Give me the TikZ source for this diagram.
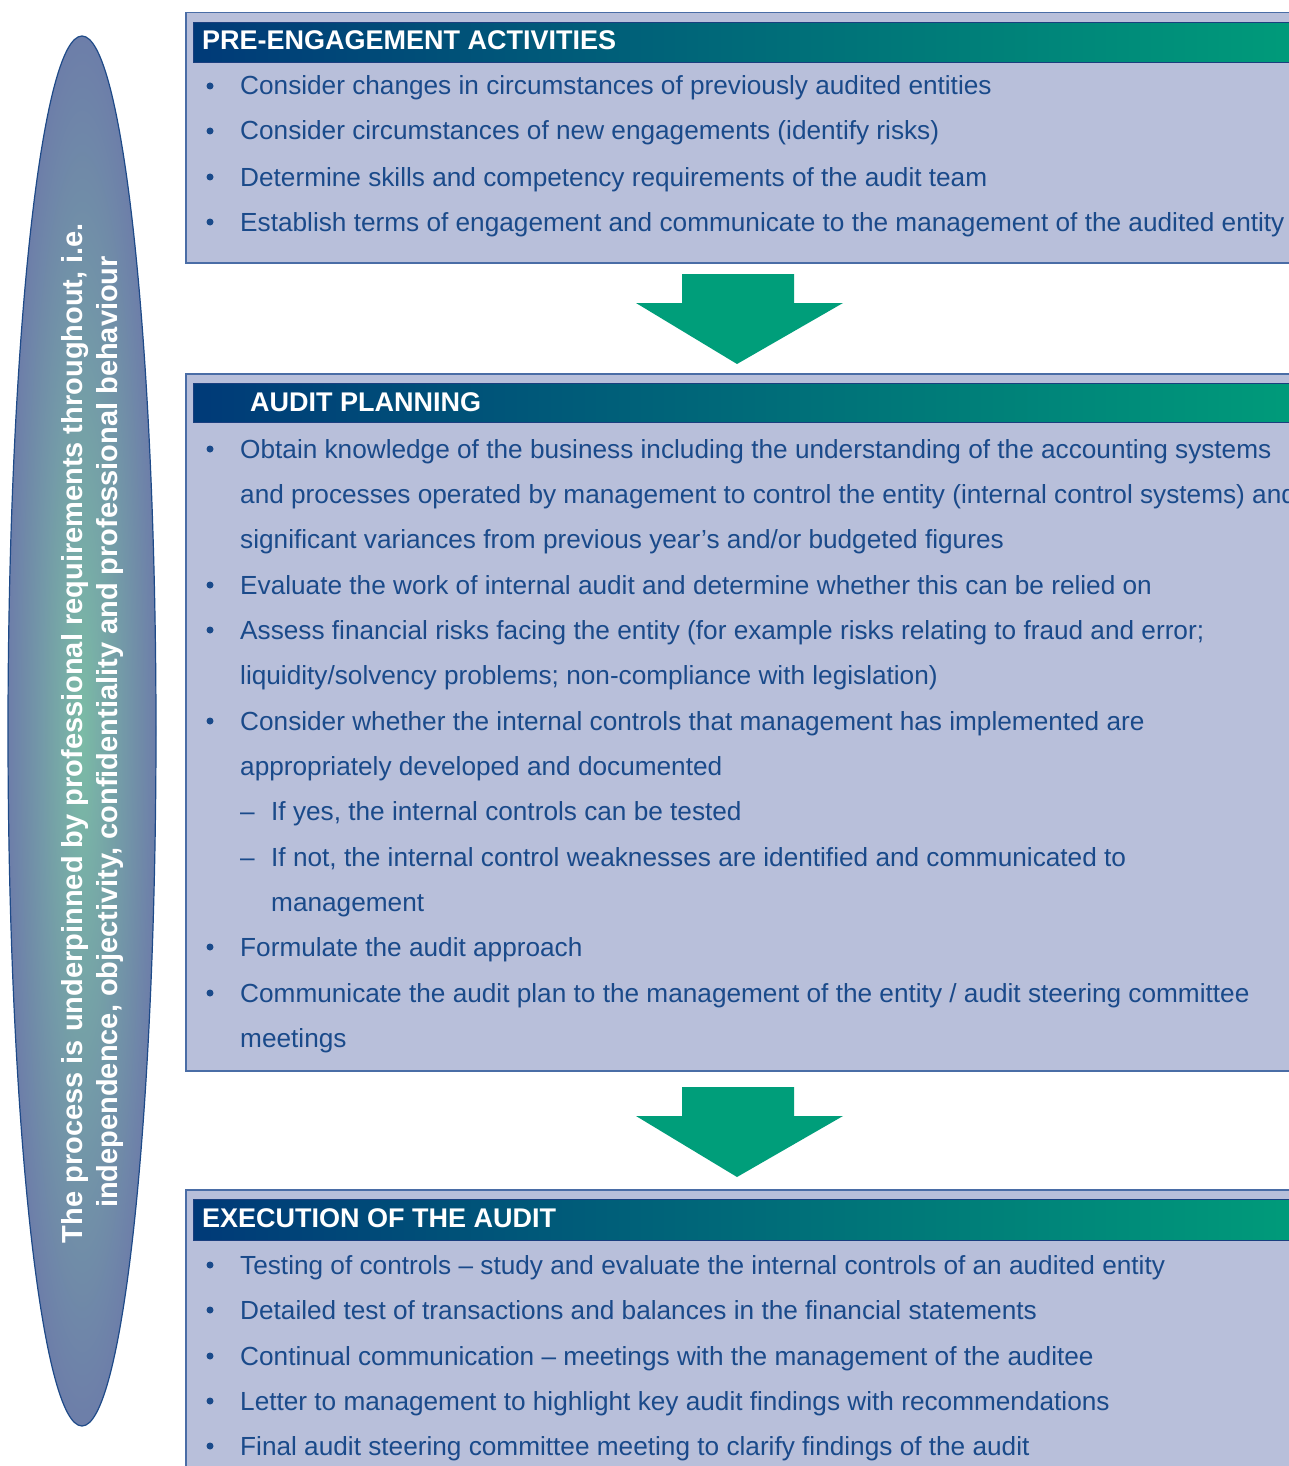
\documentclass[tikz,border=0pt]{standalone}
\usepackage{fontspec}
\setmainfont{Liberation Sans}
\definecolor{boxfill}{HTML}{B8BFDA}
\definecolor{boxline}{HTML}{4A6DA6}
\definecolor{hdrline}{HTML}{1A3F7F}
\definecolor{hdrblue}{HTML}{003A78}
\definecolor{hdrgreen}{HTML}{009C7A}
\definecolor{txtblue}{HTML}{1A4A8A}
\definecolor{arrgreen}{HTML}{009E7A}
\definecolor{ellout}{HTML}{6D7EA9}
\definecolor{ellin}{HTML}{7BBBA6}
\definecolor{ellline}{HTML}{1E4A88}
\tikzset{
 box/.style={draw=boxline, line width=1.5pt, fill=boxfill, inner sep=0pt, anchor=north west, minimum width=1130pt},
 hdr/.style={draw=hdrline, line width=1pt, left color=hdrblue, right color=hdrgreen, inner sep=0pt, anchor=north west, minimum width=1110pt},
 htext/.style={anchor=base west, text=white, font=\fontsize{27}{30}\selectfont\bfseries, inner sep=0pt},
 item/.style={anchor=base west, text=txtblue, font=\fontsize{26.2}{30}\selectfont, inner sep=0pt},
 dot/.style={circle, fill=txtblue, inner sep=0pt, minimum size=7pt},
 elltext/.style={rotate=90, anchor=base, text=white, inner sep=0pt, font=\fontsize{29}{35}\selectfont\bfseries},
 arrowshape/.style={fill=arrgreen},
}
\begin{document}
\begin{tikzpicture}[x=1pt,y=-1pt]
\useasboundingbox (0,0) rectangle (1289,1466);
\clip (0,0) rectangle (1289,1466);
\fill[white] (0,0) rectangle (1289,1466);

% left ellipse
\path[draw=ellline, line width=1.2pt, inner color=ellin, outer color=ellout] (82,731) ellipse [x radius=74, y radius=695];
\node[elltext] (ell1) at (82,733) {The process is underpinned by professional requirements throughout, i.e.};
\node[elltext] (ell2) at (117,732) {independence, objectivity, confidentiality and professional behaviour};

% Box 1
\node[box, minimum height=250pt] (box1) at (185,12) {};
\node[hdr, minimum height=40pt] (hdr1) at (193,22) {};
\node[htext] (t1) at (202,50) {PRE-ENGAGEMENT ACTIVITIES};
\foreach \y [count=\i] in {95,140,186,231} \node[dot] (d1-\i) at (210,\y-9) {};
\node[item] (p1a) at (240,95) {Consider changes in circumstances of previously audited entities};
\node[item] (p1b) at (240,140) {Consider circumstances of new engagements (identify risks)};
\node[item] (p1c) at (240,186) {Determine skills and competency requirements of the audit team};
\node[item] (p1d) at (240,231) {Establish terms of engagement and communicate to the management of the audited entity};

% Arrow 1
\fill[arrowshape] (682,274) -- (794,274) -- (794,303) -- (843,303) -- (737,364) -- (636,303) -- (682,303) -- cycle;

% Box 2
\node[box, minimum height=697pt] (box2) at (185,373) {};
\node[hdr, minimum height=39pt] (hdr2) at (193,383) {};
\node[htext] (t2) at (250,411) {AUDIT PLANNING};
\foreach \y [count=\i] in {458,594,639,730,956,1002} \node[dot] (d2-\i) at (210,\y-9) {};
\node[item] (p2a) at (240,458) {Obtain knowledge of the business including the understanding of the accounting systems};
\node[item] (p2b) at (240,503) {and processes operated by management to control the entity (internal control systems) and};
\node[item] (p2c) at (240,548) {significant variances from previous year’s and/or budgeted figures};
\node[item] (p2d) at (240,594) {Evaluate the work of internal audit and determine whether this can be relied on};
\node[item] (p2e) at (240,639) {Assess financial risks facing the entity (for example risks relating to fraud and error;};
\node[item] (p2f) at (240,684) {liquidity/solvency problems; non-compliance with legislation)};
\node[item] (p2g) at (240,730) {Consider whether the internal controls that management has implemented are};
\node[item] (p2h) at (240,775) {appropriately developed and documented};
\node[item] (s2a) at (240,820) {–};
\node[item] (p2i) at (271,820) {If yes, the internal controls can be tested};
\node[item] (s2b) at (240,866) {–};
\node[item] (p2j) at (271,866) {If not, the internal control weaknesses are identified and communicated to};
\node[item] (p2k) at (271,911) {management};
\node[item] (p2l) at (240,956) {Formulate the audit approach};
\node[item] (p2m) at (240,1002) {Communicate the audit plan to the management of the entity / audit steering committee};
\node[item] (p2n) at (240,1047) {meetings};

% Arrow 2
\fill[arrowshape] (682,1087) -- (794,1087) -- (794,1116) -- (843,1116) -- (737,1177) -- (636,1116) -- (682,1116) -- cycle;

% Box 3
\node[box, minimum height=300pt] (box3) at (185,1189) {};
\node[hdr, minimum height=41pt] (hdr3) at (193,1199) {};
\node[htext] (t3) at (202,1227) {EXECUTION OF THE AUDIT};
\foreach \y [count=\i] in {1274,1319,1365,1410,1455} \node[dot] (d3-\i) at (210,\y-9) {};
\node[item] (p3a) at (240,1274) {Testing of controls – study and evaluate the internal controls of an audited entity};
\node[item] (p3b) at (240,1319) {Detailed test of transactions and balances in the financial statements};
\node[item] (p3c) at (240,1365) {Continual communication – meetings with the management of the auditee};
\node[item] (p3d) at (240,1410) {Letter to management to highlight key audit findings with recommendations};
\node[item] (p3e) at (240,1455) {Final audit steering committee meeting to clarify findings of the audit};
\end{tikzpicture}
\end{document}
